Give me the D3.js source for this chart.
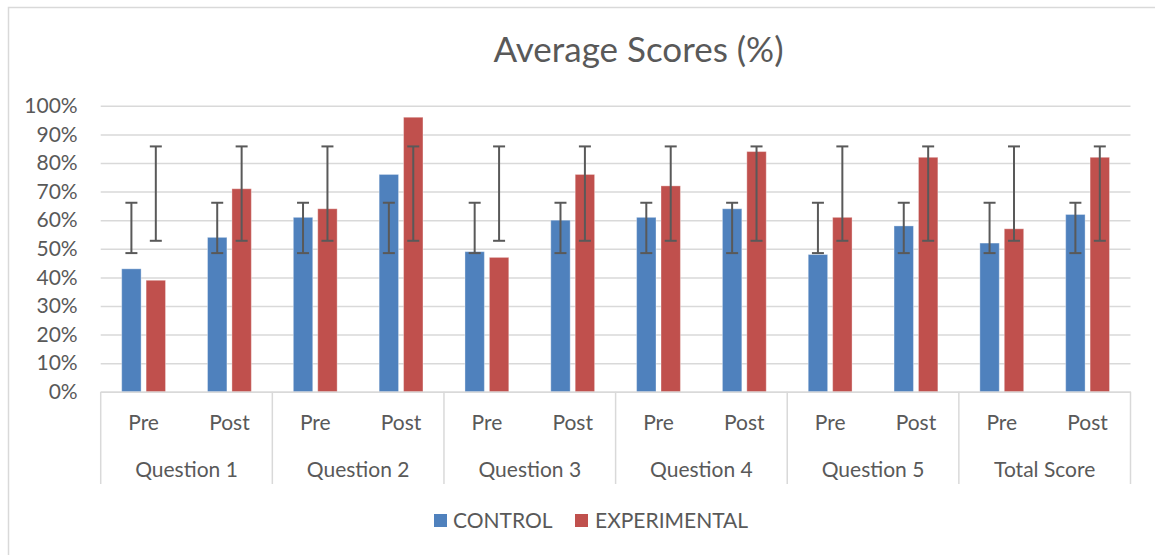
<!DOCTYPE html>
<html>
<head>
<meta charset="utf-8">
<script src="https://cdn.jsdelivr.net/npm/d3@7"></script>
<style>
  html, body { margin: 0; padding: 0; background: #fff; }
  svg { display: block; font-family: Lato, "Open Sans", sans-serif; }
</style>
</head>
<body>
<svg id="chart" width="1155" height="555"></svg>
<script>
// ---- data ----
const groups = ["Question 1", "Question 2", "Question 3", "Question 4", "Question 5", "Total Score"];
const phases = ["Pre", "Post"];
const seriesNames = ["CONTROL", "EXPERIMENTAL"];
const controlValues = [0.43, 0.54, 0.61, 0.76, 0.49, 0.60, 0.61, 0.64, 0.48, 0.58, 0.52, 0.62];
const experimentalValues = [0.39, 0.71, 0.64, 0.96, 0.47, 0.76, 0.72, 0.84, 0.61, 0.82, 0.57, 0.82];
const controlErrorRange = [0.485, 0.661];
const experimentalErrorRange = [0.528, 0.858];
const yTicks = [0, 0.1, 0.2, 0.3, 0.4, 0.5, 0.6, 0.7, 0.8, 0.9, 1.0];
const colors = ["#4f81bd", "#c0504d"];

// ---- build categories ----
const categories = [];
groups.forEach(g => phases.forEach(p => categories.push({ id: g + "|" + p, group: g, phase: p })));
const rows = categories.map((c, i) => ({
  ...c,
  values: [
    { s: seriesNames[0], v: controlValues[i], err: controlErrorRange },
    { s: seriesNames[1], v: experimentalValues[i], err: experimentalErrorRange }
  ]
}));

const svg = d3.select("#chart");
const textColor = "#595959";
const gridColor = "#d9d9d9";

// outer border
svg.append("rect").attr("x", 8.5).attr("y", 7.5).attr("width", 1170).attr("height", 570)
  .attr("fill", "none").attr("stroke", gridColor).attr("stroke-width", 1.5);

const plotLeft = 100.7, plotRight = 1130.5, plotTop = 105.8, plotBottom = 391.8;

const x = d3.scaleBand().domain(categories.map(c => c.id)).range([plotLeft, plotRight]).padding(0);
const xs = d3.scaleBand().domain(seriesNames).range([0, x.bandwidth()])
  .paddingInner(0.205).paddingOuter(0.86);
const y = d3.scaleLinear().domain([0, 1]).range([plotBottom, plotTop]);

// gridlines + y labels
const yAxis = d3.axisLeft(y).tickValues(yTicks).tickFormat(d3.format(".0%"))
  .tickSize(-(plotRight - plotLeft)).tickPadding(23);
const gy = svg.append("g").attr("transform", `translate(${plotLeft},0)`).call(yAxis);
gy.select(".domain").remove();
gy.selectAll(".tick line").attr("stroke", gridColor).attr("stroke-width", 1.5);
gy.selectAll(".tick text").attr("fill", textColor).attr("font-size", 21)
  .attr("font-family", "Lato, sans-serif");

// bars
const cat = svg.append("g").selectAll("g").data(rows).join("g")
  .attr("transform", d => `translate(${x(d.id)},0)`);
cat.selectAll("rect").data(d => d.values).join("rect")
  .attr("x", d => xs(d.s))
  .attr("width", xs.bandwidth())
  .attr("y", d => y(d.v))
  .attr("height", d => y(0) - y(d.v))
  .attr("fill", (d, i) => colors[i])
  .attr("stroke", "rgba(255,255,255,0.35)")
  .attr("stroke-width", 1);

// error bars
const eb = cat.selectAll("g.err").data(d => d.values).join("g").attr("class", "err")
  .attr("transform", d => `translate(${xs(d.s) + xs.bandwidth() / 2},0)`);
const errColor = "#595959";
eb.append("line").attr("x1", 0).attr("x2", 0)
  .attr("y1", d => y(d.err[0])).attr("y2", d => y(d.err[1]))
  .attr("stroke", errColor).attr("stroke-width", 2);
eb.append("line").attr("x1", -6).attr("x2", 6)
  .attr("y1", d => y(d.err[0])).attr("y2", d => y(d.err[0]))
  .attr("stroke", errColor).attr("stroke-width", 2);
eb.append("line").attr("x1", -6).attr("x2", 6)
  .attr("y1", d => y(d.err[1])).attr("y2", d => y(d.err[1]))
  .attr("stroke", errColor).attr("stroke-width", 2);

// category axis: baseline + phase labels
const xAxis = d3.axisBottom(x).tickSize(0).tickPadding(0)
  .tickFormat(id => id.split("|")[1]);
const gx = svg.append("g").attr("transform", `translate(0,${plotBottom})`).call(xAxis);
gx.select(".domain").attr("stroke", gridColor).attr("stroke-width", 1.5);
gx.selectAll(".tick text").attr("fill", textColor).attr("font-size", 21)
  .attr("font-family", "Lato, sans-serif").attr("dy", null).attr("y", 38);

// group separators and group labels
const groupStarts = groups.map(g => x(g + "|" + phases[0]));
const boundaries = groupStarts.concat([plotRight]);
svg.append("g").selectAll("line").data(boundaries).join("line")
  .attr("x1", d => d).attr("x2", d => d)
  .attr("y1", plotBottom).attr("y2", 484)
  .attr("stroke", gridColor).attr("stroke-width", 1.5);
svg.append("g").selectAll("text").data(groups).join("text")
  .attr("x", g => x(g + "|" + phases[0]) + x.bandwidth())
  .attr("y", 476.5)
  .attr("text-anchor", "middle")
  .attr("fill", textColor).attr("font-size", 21)
  .text(g => g);

// title
svg.append("text").attr("x", 638.5).attr("y", 61.5).attr("text-anchor", "middle")
  .attr("fill", textColor).attr("font-size", 35).text("Average Scores (%)");

// legend
const legendItems = [{ name: seriesNames[0], sx: 434, tx: 453 }, { name: seriesNames[1], sx: 575, tx: 595 }];
const lg = svg.append("g").selectAll("g").data(legendItems).join("g");
lg.append("rect").attr("x", d => d.sx).attr("y", 514).attr("width", 13).attr("height", 13)
  .attr("fill", (d, i) => colors[i]);
lg.append("text").attr("x", d => d.tx).attr("y", 528).attr("fill", textColor)
  .attr("font-size", 21).text(d => d.name);
</script>
</body>
</html>
